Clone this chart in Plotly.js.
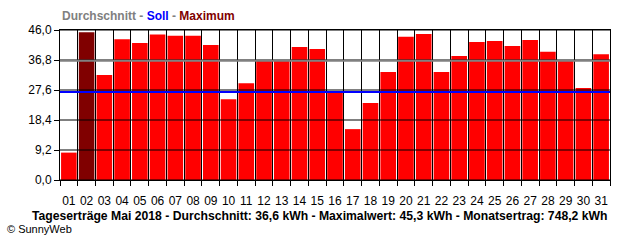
<!DOCTYPE html>
<html>
<head>
<meta charset="utf-8">
<script src="https://cdn.plot.ly/plotly-3.0.1.min.js"></script>
<style>html,body{margin:0;padding:0;background:#fff;}#chart{width:640px;height:240px;}</style>
</head>
<body>
<div id="chart"></div>
<script>
const days = ["01","02","03","04","05","06","07","08","09","10","11","12","13","14","15","16","17","18","19","20","21","22","23","24","25","26","27","28","29","30","31"];
const yields = [8.4,45.3,32.2,43.2,42.0,44.6,44.2,44.2,41.4,24.8,29.7,36.8,36.8,40.8,40.2,26.7,15.6,23.6,33.1,43.9,44.8,33.1,38.0,42.3,42.6,41.1,42.9,39.3,36.5,28.2,38.6];
const yTicks = [0, 9.2, 18.4, 27.6, 36.8, 46.0];
const avgValue = 36.6;
const sollValue = 27.0;
const maxValue = 45.3;
const captionText = "Tageserträge Mai 2018 - Durchschnitt: 36,6 kWh - Maximalwert: 45,3 kWh - Monatsertrag: 748,2 kWh";

const xs = days.map((d, i) => i + 1);
const maxIdx = yields.indexOf(Math.max(...yields));
const colors = yields.map((v, i) => i === maxIdx ? '#800000' : '#FF0000');

const font = "Liberation Sans, Arial, sans-serif";

const shapes = yTicks.map(v => ({
  type: 'line', xref: 'paper', yref: 'y', x0: 0, x1: 1, y0: v, y1: v,
  line: {color: '#000', width: 1}, layer: 'above'
}));
shapes.push({type:'line', xref:'paper', yref:'y', x0:0, x1:1, y0:avgValue, y1:avgValue, line:{color:'#808080', width:2}, layer:'above'});
shapes.push({type:'line', xref:'paper', yref:'y', x0:0, x1:1, y0:sollValue, y1:sollValue, line:{color:'#0000FF', width:2}, layer:'above'});

const data = [{
  type: 'bar', x: xs, y: yields, width: 0.88,
  marker: {color: colors, line: {width: 0}},
  hoverinfo: 'none'
}];

const layout = {
  width: 640, height: 240,
  margin: {l: 60, r: 30, t: 30, b: 60, pad: 0},
  paper_bgcolor: '#fff', plot_bgcolor: '#fff',
  separators: ', ',
  showlegend: false,
  font: {family: font, size: 12, color: '#000'},
  xaxis: {
    type: 'linear', range: [0.5, 31.5],
    tickvals: xs, ticktext: days,
    ticks: 'outside', ticklen: 10, tickcolor: 'rgba(0,0,0,0)',
    showgrid: false, zeroline: false,
    showline: true, linecolor: '#000', linewidth: 1, mirror: true,
    tickfont: {family: font, size: 12, color: '#000'},
    minor: {tick0: 0.5, dtick: 1, showgrid: true, gridcolor: '#000', gridwidth: 1, ticks: 'outside', ticklen: 5, tickcolor: '#000'}
  },
  yaxis: {
    range: [0, 46], tickvals: yTicks, tickformat: '.1f',
    ticks: 'outside', ticklen: 5, tickcolor: '#000',
    showgrid: false, zeroline: false,
    showline: true, linecolor: '#000', linewidth: 1, mirror: true,
    tickfont: {family: font, size: 12, color: '#000'}
  },
  shapes: shapes,
  annotations: [
    {xref: 'paper', yref: 'paper', x: 0, y: 1.093, xanchor: 'left', yanchor: 'middle', showarrow: false,
     text: '<b><span style="color:#808080">Durchschnitt - </span><span style="color:#0000FF">Soll</span><span style="color:#808080"> - </span><span style="color:#800000">Maximum</span></b>',
     font: {family: font, size: 12}},
    {xref: 'paper', yref: 'paper', x: 0.4727, y: -0.24, xanchor: 'center', yanchor: 'middle', showarrow: false,
     text: '<b>' + captionText + '</b>', font: {family: font, size: 12.2, color: '#000'}},
    {xref: 'paper', yref: 'paper', x: -0.1, y: -0.327, xanchor: 'left', yanchor: 'middle', showarrow: false,
     text: '© SunnyWeb', font: {family: font, size: 11, color: '#000'}}
  ]
};

Plotly.newPlot('chart', data, layout, {staticPlot: true, displayModeBar: false});
</script>
</body>
</html>
